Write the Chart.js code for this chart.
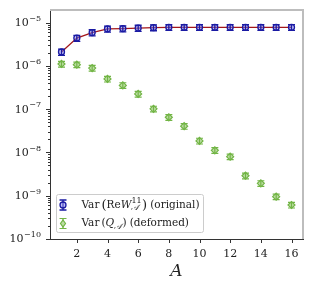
<!DOCTYPE html>
<html>
<head>
<meta charset="utf-8">
<script src="https://cdn.jsdelivr.net/npm/chart.js@4.4.1/dist/chart.umd.min.js"></script>
<style>
  html, body { margin: 0; padding: 0; background: #fff; }
  canvas { display: block; }
</style>
</head>
<body>
<canvas id="chart" width="315" height="290"></canvas>
<script>
// subsystem size A
const sizes = [1, 2, 3, 4, 5, 6, 7, 8, 9, 10, 11, 12, 13, 14, 15, 16];
// Var(Re W^11_A), original
const originalVar = [2.1e-6, 4.4e-6, 5.9e-6, 7.2e-6, 7.3e-6, 7.5e-6, 7.7e-6, 7.8e-6,
                     7.8e-6, 7.8e-6, 7.8e-6, 7.8e-6, 7.8e-6, 7.8e-6, 7.8e-6, 7.8e-6];
const originalErr = [3.5e-7, 7e-7, 9.5e-7, 1.15e-6, 1.15e-6, 1.2e-6, 1.2e-6, 1.2e-6,
                     1.2e-6, 1.2e-6, 1.2e-6, 1.2e-6, 1.2e-6, 1.2e-6, 1.2e-6, 1.2e-6];
// Var(Q_A), deformed
const deformedVar = [1.11e-6, 1.07e-6, 8.9e-7, 5.0e-7, 3.55e-7, 2.25e-7, 1.02e-7, 6.5e-8,
                     4.05e-8, 1.85e-8, 1.12e-8, 8.0e-9, 2.9e-9, 1.93e-9, 9.5e-10, 6.1e-10];
const deformedErr = [1.7e-7, 1.6e-7, 1.35e-7, 7.5e-8, 5.3e-8, 3.4e-8, 1.5e-8, 9.8e-9,
                     6.1e-9, 2.8e-9, 1.7e-9, 1.2e-9, 4.4e-10, 2.9e-10, 1.4e-10, 9e-11];

const xTicks = [2, 4, 6, 8, 10, 12, 14, 16];
const yTickValues = [1e-10, 1e-9, 1e-8, 1e-7, 1e-6, 1e-5];
const yTickExps = ['−10', '−9', '−8', '−7', '−6', '−5'];

const BLUE = '#1a1aa3';
const BLUE_FILL = 'rgba(130,130,235,0.5)';
const GREEN = '#72b545';
const GREEN_FILL = '#bcdca4';
const LINE_RED = '#a3171b';
const SERIF = '"DejaVu Serif", serif';

function isDecade(v) {
  const e = Math.log10(v);
  return Math.abs(e - Math.round(e)) < 1e-6;
}

// error bars with caps, drawn through the scales
const errorBars = {
  id: 'errorBars',
  afterDatasetsDraw(chart) {
    const { ctx, scales: { x, y } } = chart;
    const sets = [
      { vals: originalVar, errs: originalErr, color: BLUE, cap: 3.5, w: 1.3 },
      { vals: deformedVar, errs: deformedErr, color: GREEN, cap: 3.5, w: 1.2 },
    ];
    ctx.save();
    sets.forEach(s => {
      ctx.strokeStyle = s.color;
      ctx.lineWidth = s.w;
      sizes.forEach((a, i) => {
        const px = x.getPixelForValue(a);
        const top = y.getPixelForValue(s.vals[i] + s.errs[i]);
        const bot = y.getPixelForValue(s.vals[i] - s.errs[i]);
        ctx.beginPath();
        ctx.moveTo(px, top); ctx.lineTo(px, bot);
        ctx.moveTo(px - s.cap, top); ctx.lineTo(px + s.cap, top);
        ctx.moveTo(px - s.cap, bot); ctx.lineTo(px + s.cap, bot);
        ctx.stroke();
      });
    });
    ctx.restore();
  }
};

// tick marks (major/minor), y labels, grey top/right spines, legend
const frame = {
  id: 'frame',
  afterDraw(chart) {
    const { ctx, scales: { x, y }, chartArea: a } = chart;
    ctx.save();
    ctx.strokeStyle = '#bdbdbd';
    ctx.lineWidth = 2;
    ctx.beginPath();
    ctx.moveTo(a.left, a.top); ctx.lineTo(a.right, a.top); ctx.lineTo(a.right, a.bottom);
    ctx.stroke();

    ctx.strokeStyle = '#333';
    ctx.lineWidth = 1;
    ctx.beginPath();
    y.ticks.forEach(t => {
      const py = Math.round(y.getPixelForValue(t.value)) + 0.5;
      const len = isDecade(t.value) ? 4 : 2;
      ctx.moveTo(a.left - len, py); ctx.lineTo(a.left, py);
    });
    x.ticks.forEach(t => {
      const px = Math.round(x.getPixelForValue(t.value)) + 0.5;
      ctx.moveTo(px, a.bottom); ctx.lineTo(px, a.bottom + 4);
    });
    ctx.stroke();

    // y tick labels: 10 with a raised exponent
    ctx.fillStyle = '#222';
    ctx.textBaseline = 'middle';
    yTickValues.forEach((v, i) => {
      const py = y.getPixelForValue(v);
      ctx.textAlign = 'right';
      ctx.font = '8px ' + SERIF;
      const ew = ctx.measureText(yTickExps[i]).width;
      ctx.fillText(yTickExps[i], 41, py - 4);
      ctx.font = '11px ' + SERIF;
      ctx.fillText('10', 41 - ew - 0.5, py + 0.5);
    });

    drawLegend(ctx);
    ctx.restore();
  }
};

function drawRich(ctx, x, y, parts, size) {
  ctx.textBaseline = 'middle';
  ctx.textAlign = 'left';
  let cx = x;
  let stackW = 0;
  parts.forEach(p => {
    if (p.sup || p.sub) {
      ctx.font = (p.it ? 'italic ' : '') + Math.round(size * 0.72) + 'px ' + SERIF;
      ctx.fillText(p.t, cx, y + (p.sup ? -size * 0.4 : size * 0.32));
      stackW = Math.max(stackW, ctx.measureText(p.t).width);
      return;
    }
    if (stackW) { cx += stackW + 0.5; stackW = 0; }
    const fs = p.big ? size * 1.25 : size;
    ctx.font = (p.it ? 'italic ' : '') + fs + 'px ' + SERIF;
    ctx.fillText(p.t, cx, y + (p.big ? 0.5 : 0));
    cx += ctx.measureText(p.t).width + (p.gap || 0);
  });
}

function drawLegend(ctx) {
  const bx = 56.5, by = 194.5, bw = 147, bh = 38;
  ctx.fillStyle = 'rgba(255,255,255,0.85)';
  ctx.strokeStyle = '#cccccc';
  ctx.lineWidth = 1;
  ctx.beginPath();
  ctx.roundRect(bx, by, bw, bh, 2);
  ctx.fill(); ctx.stroke();

  const mx = 63, y1 = 205, y2 = 223.5;
  // blue entry
  ctx.strokeStyle = BLUE; ctx.lineWidth = 1.3;
  ctx.beginPath();
  ctx.moveTo(mx, y1 - 5); ctx.lineTo(mx, y1 + 5);
  ctx.moveTo(mx - 3.5, y1 - 5); ctx.lineTo(mx + 3.5, y1 - 5);
  ctx.moveTo(mx - 3.5, y1 + 5); ctx.lineTo(mx + 3.5, y1 + 5);
  ctx.stroke();
  ctx.fillStyle = BLUE_FILL;
  ctx.beginPath(); ctx.arc(mx, y1, 3, 0, Math.PI * 2); ctx.fill(); ctx.stroke();

  // green entry
  ctx.strokeStyle = GREEN; ctx.lineWidth = 1.2;
  ctx.beginPath();
  ctx.moveTo(mx, y2 - 5); ctx.lineTo(mx, y2 + 5);
  ctx.moveTo(mx - 3.5, y2 - 5); ctx.lineTo(mx + 3.5, y2 - 5);
  ctx.moveTo(mx - 3.5, y2 + 5); ctx.lineTo(mx + 3.5, y2 + 5);
  ctx.stroke();
  ctx.fillStyle = GREEN_FILL;
  ctx.beginPath();
  ctx.moveTo(mx, y2 - 3.5); ctx.lineTo(mx + 2.5, y2); ctx.lineTo(mx, y2 + 3.5); ctx.lineTo(mx - 2.5, y2);
  ctx.closePath(); ctx.fill(); ctx.stroke();

  ctx.fillStyle = '#222';
  drawRich(ctx, 81.5, y1, [
    { t: 'Var', gap: 2 }, { t: '(', big: true }, { t: 'Re' }, { t: 'W', it: true },
    { t: '11', sup: true }, { t: '𝒜', sub: true, it: true },
    { t: ')', big: true, gap: 3 }, { t: '(original)' }
  ], 10.5);
  drawRich(ctx, 81.5, y2, [
    { t: 'Var', gap: 2 }, { t: '(' }, { t: 'Q', it: true },
    { t: '𝒜', sub: true, it: true },
    { t: ')', gap: 3 }, { t: '(deformed)' }
  ], 10.5);
}

new Chart(document.getElementById('chart'), {
  type: 'line',
  data: {
    labels: sizes,
    datasets: [
      {
        label: 'original',
        data: sizes.map((a, i) => ({ x: a, y: originalVar[i] })),
        borderColor: LINE_RED,
        borderWidth: 1.3,
        pointStyle: 'circle',
        pointRadius: 3,
        pointBorderWidth: 1.3,
        pointBorderColor: BLUE,
        pointBackgroundColor: BLUE_FILL,
        tension: 0,
      },
      {
        label: 'deformed',
        data: sizes.map((a, i) => ({ x: a, y: deformedVar[i] })),
        showLine: false,
        pointStyle: 'rectRot',
        pointRadius: 3.5,
        pointBorderWidth: 1.2,
        pointBorderColor: GREEN,
        pointBackgroundColor: GREEN_FILL,
      },
    ],
  },
  options: {
    responsive: false,
    animation: false,
    devicePixelRatio: 1,
    layout: { padding: { top: 10, right: 12, left: 0, bottom: 0 } },
    plugins: { legend: { display: false }, tooltip: { enabled: false } },
    scales: {
      x: {
        type: 'linear',
        min: 0.25,
        max: 16.75,
        afterBuildTicks: s => { s.ticks = xTicks.map(v => ({ value: v })); },
        afterFit: s => { s.height = 51; },
        grid: { display: false, drawTicks: false },
        border: { display: true, color: '#333', width: 1 },
        ticks: {
          padding: 9,
          color: '#222',
          font: { family: SERIF, size: 11 },
          callback: v => String(v),
        },
        title: {
          display: true,
          text: 'A',
          color: '#222',
          font: { family: SERIF, size: 17, style: 'italic' },
          padding: { top: 0, bottom: 8 },
        },
      },
      y: {
        type: 'logarithmic',
        min: 1e-10,
        max: 1.96e-5,
        afterBuildTicks: s => {
          s.ticks = s.ticks.filter(t => {
            const m = t.value / Math.pow(10, Math.floor(Math.log10(t.value) + 1e-9));
            return Math.abs(m - Math.round(m)) < 1e-6 && t.value <= 1.96e-5;
          });
        },
        afterFit: s => { s.width = 50; },
        grid: { display: false, drawTicks: false },
        border: { display: true, color: '#333', width: 1 },
        ticks: { display: false, autoSkip: false },
      },
    },
  },
  plugins: [errorBars, frame],
});
</script>
</body>
</html>
